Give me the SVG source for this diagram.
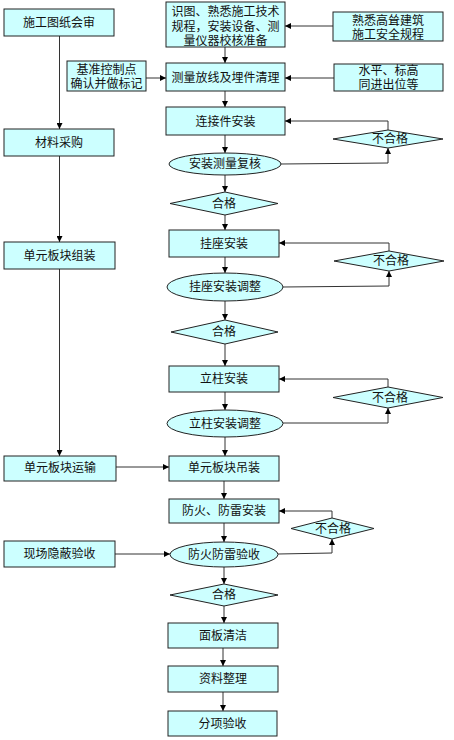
<svg xmlns="http://www.w3.org/2000/svg" width="454" height="740" viewBox="0 0 454 740">
<style>
.n{fill:#CCFFFF;stroke:#222;stroke-width:1}
.t{font-family:"Liberation Sans","Noto Sans CJK SC",sans-serif;font-size:12px;fill:#111;text-anchor:middle}
.c{fill:none;stroke:#333;stroke-width:1;marker-end:url(#a)}
.l{fill:none;stroke:#333;stroke-width:1}
</style>
<defs>
<marker id="a" viewBox="0 0 10 10" refX="10" refY="5" markerWidth="6" markerHeight="6" markerUnits="userSpaceOnUse" orient="auto">
<path d="M0,0L10,5L0,10z" fill="#000"/>
</marker>
</defs>
<rect width="454" height="740" fill="#fff"/>
<g id="connectors">
<path class="c" d="M59.5,36V129"/>
<path class="c" d="M59.5,156V242"/>
<path class="c" d="M59.5,269V456"/>
<path class="c" d="M333,26H285"/>
<path class="c" d="M146,78H166"/>
<path class="c" d="M334,78H285"/>
<path class="c" d="M225,47V63"/>
<path class="c" d="M225,91V107"/>
<path class="c" d="M225,135V153"/>
<path class="c" d="M225,175V192"/>
<path class="c" d="M225,215V230"/>
<path class="c" d="M388,130V121H285"/>
<path class="c" d="M281,164L388,163V148"/>
<path class="c" d="M225,257V273"/>
<path class="c" d="M225,301V320"/>
<path class="c" d="M225,344V366"/>
<path class="c" d="M389,251V243H279"/>
<path class="c" d="M283,287L389,286V271"/>
<path class="c" d="M225,392V410"/>
<path class="c" d="M225,437V456"/>
<path class="c" d="M388,387V379H279"/>
<path class="c" d="M283,423H388V408"/>
<path class="c" d="M116,467H169"/>
<path class="c" d="M224,481V499"/>
<path class="c" d="M224,523V542"/>
<path class="c" d="M332,518V511H279"/>
<path class="c" d="M278,554L332,553V539"/>
<path class="c" d="M115,554H170"/>
<path class="c" d="M224,567V584"/>
<path class="c" d="M224,606V623"/>
<path class="c" d="M223,648V666"/>
<path class="c" d="M223,692V711"/>
</g>
<g id="n1"><rect class="n" x="4" y="9" width="110" height="27"/><text class="t" x="59" y="27">施工图纸会审</text></g>
<g id="n2"><rect class="n" x="166" y="2" width="119" height="45"/><text class="t" x="225.5" y="16">识图、熟悉施工技术</text><text class="t" x="225.5" y="31">规程，安装设备、测</text><text class="t" x="225.5" y="45">量仪器校核准备</text></g>
<g id="n3"><rect class="n" x="333" y="12" width="110" height="29"/><text class="t" x="388" y="25">熟悉高耸建筑</text><text class="t" x="388" y="39">施工安全规程</text></g>
<g id="n4"><rect class="n" x="67" y="61" width="79" height="30"/><text class="t" x="106.5" y="74">基准控制点</text><text class="t" x="106.5" y="88">确认并做标记</text></g>
<g id="n5"><rect class="n" x="166" y="63" width="119" height="28"/><text class="t" x="225.5" y="82">测量放线及埋件清理</text></g>
<g id="n6"><rect class="n" x="334" y="64" width="109" height="27"/><text class="t" x="388.5" y="75">水平、标高</text><text class="t" x="388.5" y="89">同进出位等</text></g>
<g id="n7"><rect class="n" x="166" y="107" width="119" height="28"/><text class="t" x="225.5" y="126">连接件安装</text></g>
<g id="n8"><rect class="n" x="4" y="129" width="110" height="27"/><text class="t" x="59" y="147">材料采购</text></g>
<g id="n9"><polygon class="n" points="333,139 388,130 443,139 388,148"/><text class="t" x="390" y="143">不合格</text></g>
<g id="n10"><ellipse class="n" cx="225" cy="164" rx="56" ry="11"/><text class="t" x="225" y="168">安装测量复核</text></g>
<g id="n11"><polygon class="n" points="170,203.5 225,192 278,203.5 225,215"/><text class="t" x="224" y="208">合格</text></g>
<g id="n12"><rect class="n" x="169" y="230" width="110" height="27"/><text class="t" x="224" y="248">挂座安装</text></g>
<g id="n13"><rect class="n" x="4" y="242" width="111" height="27"/><text class="t" x="59.5" y="260">单元板块组装</text></g>
<g id="n14"><polygon class="n" points="334,261 389,251 444,261 389,271"/><text class="t" x="391" y="265">不合格</text></g>
<g id="n15"><ellipse class="n" cx="225" cy="287" rx="58" ry="14"/><text class="t" x="225" y="291">挂座安装调整</text></g>
<g id="n16"><polygon class="n" points="171,332 225,320 278,332 225,344"/><text class="t" x="224" y="336">合格</text></g>
<g id="n17"><rect class="n" x="169" y="366" width="110" height="26"/><text class="t" x="224" y="383">立柱安装</text></g>
<g id="n18"><polygon class="n" points="333,397.5 388,387 443,397.5 388,408"/><text class="t" x="390" y="402">不合格</text></g>
<g id="n19"><ellipse class="n" cx="225" cy="423.5" rx="58" ry="13.5"/><text class="t" x="225" y="428">立柱安装调整</text></g>
<g id="n20"><rect class="n" x="4" y="456" width="112" height="25"/><text class="t" x="60" y="472">单元板块运输</text></g>
<g id="n21"><rect class="n" x="169" y="456" width="110" height="25"/><text class="t" x="224" y="472">单元板块吊装</text></g>
<g id="n22"><rect class="n" x="169" y="499" width="110" height="24"/><text class="t" x="224" y="515">防火、防雷安装</text></g>
<g id="n23"><polygon class="n" points="291,528.5 332,518 374,528.5 332,539"/><text class="t" x="333" y="533">不合格</text></g>
<g id="n24"><rect class="n" x="4" y="541" width="111" height="26"/><text class="t" x="59.5" y="558">现场隐蔽验收</text></g>
<g id="n25"><ellipse class="n" cx="224" cy="554.5" rx="54" ry="12.5"/><text class="t" x="224" y="559">防火防雷验收</text></g>
<g id="n26"><polygon class="n" points="170,595 224,584 278,595 224,606"/><text class="t" x="224" y="599">合格</text></g>
<g id="n27"><rect class="n" x="168" y="623" width="110" height="25"/><text class="t" x="223" y="640">面板清洁</text></g>
<g id="n28"><rect class="n" x="168" y="666" width="110" height="26"/><text class="t" x="223" y="683">资料整理</text></g>
<g id="n29"><rect class="n" x="168" y="711" width="109" height="25"/><text class="t" x="222.5" y="728">分项验收</text></g>
</svg>
